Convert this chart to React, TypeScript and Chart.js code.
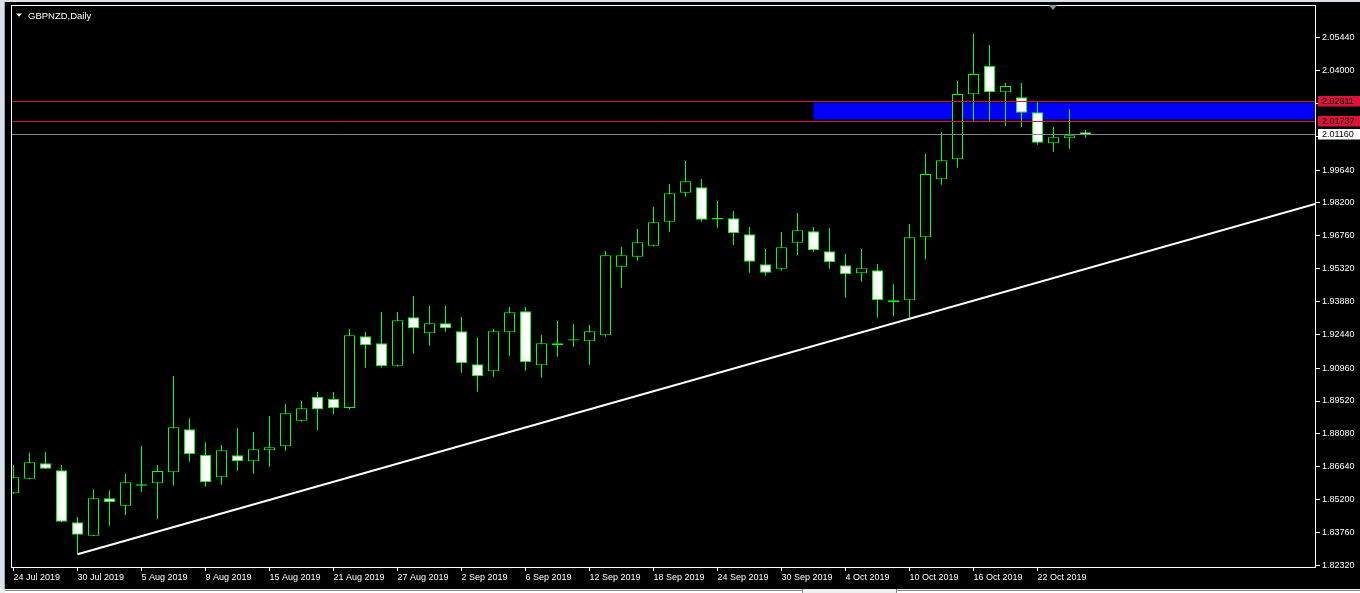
import React, { useEffect, useRef } from "react";
import { Chart, registerables } from "chart.js";

Chart.register(...registerables);

const TITLE = "GBPNZD,Daily";

const DATES = [
  "2019-07-24", "2019-07-25", "2019-07-26", "2019-07-29", "2019-07-30", "2019-07-31",
  "2019-08-01", "2019-08-02", "2019-08-05", "2019-08-06", "2019-08-07", "2019-08-08", "2019-08-09",
  "2019-08-12", "2019-08-13", "2019-08-14", "2019-08-15", "2019-08-16",
  "2019-08-19", "2019-08-20", "2019-08-21", "2019-08-22", "2019-08-23",
  "2019-08-26", "2019-08-27", "2019-08-28", "2019-08-29", "2019-08-30",
  "2019-09-02", "2019-09-03", "2019-09-04", "2019-09-05", "2019-09-06",
  "2019-09-09", "2019-09-10", "2019-09-11", "2019-09-12", "2019-09-13",
  "2019-09-16", "2019-09-17", "2019-09-18", "2019-09-19", "2019-09-20",
  "2019-09-23", "2019-09-24", "2019-09-25", "2019-09-26", "2019-09-27",
  "2019-09-30", "2019-10-01", "2019-10-02", "2019-10-03", "2019-10-04",
  "2019-10-07", "2019-10-08", "2019-10-09", "2019-10-10", "2019-10-11",
  "2019-10-14", "2019-10-15", "2019-10-16", "2019-10-17", "2019-10-18",
  "2019-10-21", "2019-10-22", "2019-10-23", "2019-10-24", "2019-10-25",
];

const OPEN = [
  1.85475, 1.86115, 1.8679, 1.86483, 1.84204, 1.83617, 1.85256, 1.84932, 1.85808, 1.85913,
  1.86395, 1.8828, 1.87153, 1.86176, 1.8714, 1.86877, 1.87359, 1.87535, 1.88657, 1.89695,
  1.89607, 1.89213, 1.92355, 1.92048, 1.91067, 1.93188, 1.92487, 1.92925, 1.92574, 1.91128,
  1.90821, 1.9253, 1.93451, 1.91084, 1.91961, 1.9217, 1.92136, 1.92399, 1.95405, 1.95843,
  1.96325, 1.97377, 1.98648, 1.98884, 1.97478, 1.97526, 1.96825, 1.9551, 1.95317, 1.96457,
  1.96956, 1.9608, 1.95466, 1.95116, 1.95247, 1.93933, 1.93933, 1.96693, 1.99235, 2.00111,
  2.0296, 2.042, 2.03047, 2.02828, 2.02171, 2.00813, 2.01032, 2.01295,
];

const HIGH = [
  1.86715, 1.87254, 1.87285, 1.86715, 1.84437, 1.8565, 1.85607, 1.86321, 1.87548, 1.86715,
  1.90615, 1.88762, 1.8771, 1.87592, 1.88337, 1.88161, 1.88863, 1.89388, 1.8952, 1.89914,
  1.89914, 1.92675, 1.92544, 1.9342, 1.9342, 1.94121, 1.93683, 1.93683, 1.93201, 1.92281,
  1.92675, 1.93639, 1.93639, 1.92412, 1.93026, 1.92894, 1.9285, 1.96093, 1.96268, 1.97057,
  1.98021, 1.99029, 2.00037, 1.99248, 1.98284, 1.97846, 1.97145, 1.96181, 1.96926, 1.97758,
  1.97145, 1.97101, 1.95962, 1.96181, 1.95523, 1.94634, 1.97276, 2.00344, 2.01308, 2.03542,
  2.05602, 2.0512, 2.03455, 2.03455, 2.02635, 2.01527, 2.02316, 2.01395,
];

const LOW = [
  1.85445, 1.86089, 1.8654, 1.84217, 1.82802, 1.83604, 1.84055, 1.84524, 1.85545, 1.84336,
  1.85808, 1.8686, 1.85764, 1.85852, 1.86466, 1.86334, 1.86641, 1.87342, 1.88613, 1.88249,
  1.8895, 1.89147, 1.90979, 1.90979, 1.91023, 1.91593, 1.91943, 1.92557, 1.9076, 1.89927,
  1.90585, 1.91505, 1.90848, 1.90541, 1.91461, 1.91899, 1.91111, 1.92338, 1.94485, 1.95668,
  1.9629, 1.96939, 1.98472, 1.97377, 1.97114, 1.96356, 1.95142, 1.95011, 1.9523, 1.95918,
  1.96062, 1.95317, 1.94047, 1.94748, 1.9317, 1.93231, 1.93122, 1.95729, 1.98998, 1.99743,
  2.01803, 2.01803, 2.01584, 2.0154, 2.00751, 2.00444, 2.00576, 2.01058,
];

const CLOSE = [
  1.86176, 1.86834, 1.86553, 1.84231, 1.83661, 1.85256, 1.85081, 1.85957, 1.8587, 1.86452,
  1.88367, 1.87184, 1.85957, 1.87359, 1.86877, 1.87403, 1.87491, 1.88981, 1.892, 1.89147,
  1.892, 1.92399, 1.91961, 1.9104, 1.93056, 1.92706, 1.92925, 1.92706, 1.91172, 1.90602,
  1.92574, 1.93407, 1.91216, 1.92048, 1.92048, 1.9223, 1.92574, 1.95905, 1.95905, 1.96474,
  1.97351, 1.98621, 1.99147, 1.97465, 1.97538, 1.96869, 1.95624, 1.95142, 1.96255, 1.97,
  1.96124, 1.95598, 1.95072, 1.95335, 1.93933, 1.93845, 1.96693, 1.99467, 2.00068, 2.02973,
  2.03849, 2.03047, 2.03323, 2.02153, 2.00839, 2.01075, 2.01163, 2.0116,
];

const Y_TICKS = [
  2.0544, 2.04, 2.0256, 2.0112, 1.9964, 1.982, 1.9676, 1.9532, 1.9388,
  1.9244, 1.9096, 1.8952, 1.8808, 1.8664, 1.852, 1.8376, 1.8232,
];
const X_TICK_EVERY = 4;
const MONTHS = ["Jan", "Feb", "Mar", "Apr", "May", "Jun", "Jul", "Aug", "Sep", "Oct", "Nov", "Dec"];

// horizontal levels drawn on the chart
const RED_LEVELS = [2.02611, 2.01737];
const BID_PRICE = 2.0116;
// blue zone rectangle
const ZONE_START_INDEX = 50;
const ZONE_TOP = 2.0259;
const ZONE_BOTTOM = 2.0186;
// trend line anchors (bar index, price), drawn as a ray
const TREND_INDEX = [4, 56];
const TREND_PRICE = [1.82802, 1.93122];

// visible range
const X_MIN = -0.15625;
const X_MAX = 81.40625;
const Y_MIN = 1.82202;
const Y_MAX = 2.06873;

const FONT = '"Liberation Sans", Arial, sans-serif';

function fmtDate(s: string) {
  const [y, m, d] = s.split("-");
  return `${parseInt(d, 10)} ${MONTHS[parseInt(m, 10) - 1]} ${y}`;
}

const mt4Plugin = {
  id: "mt4",
  beforeDraw(chart: any) {
    const { ctx, width, height } = chart;
    ctx.save();
    ctx.fillStyle = "#000000";
    ctx.fillRect(0, 0, width, height);
    // window chrome
    ctx.fillStyle = "#d9e0e8";
    ctx.fillRect(0, 0, 4, height);
    ctx.fillRect(0, 0, width, 2);
    ctx.fillStyle = "#9ba6b2";
    ctx.fillRect(4, 2, 1, height - 2);
    ctx.fillStyle = "#f0f0f0";
    ctx.fillRect(0, 589, width, height - 589);
    ctx.fillStyle = "#ffffff";
    ctx.fillRect(5, 591, 797, height - 591);
    ctx.fillRect(897, 591, width - 897, height - 591);
    ctx.fillStyle = "#8a8a8a";
    ctx.fillRect(5, 590, 797, 1);
    ctx.fillRect(897, 590, width - 897, 1);
    ctx.fillRect(802, 589, 1, height - 589);
    ctx.fillRect(896, 589, 1, height - 589);
    ctx.restore();
  },
  beforeDatasetsDraw(chart: any) {
    const { ctx, chartArea } = chart;
    const xs = chart.scales.x;
    const ys = chart.scales.y;
    const x0 = xs.getPixelForValue(ZONE_START_INDEX);
    const yTop = ys.getPixelForValue(ZONE_TOP);
    const yBot = ys.getPixelForValue(ZONE_BOTTOM);
    ctx.save();
    ctx.fillStyle = "#0000ff";
    ctx.fillRect(x0, yTop, chartArea.right - x0, yBot - yTop);
    ctx.restore();
  },
  afterDatasetsDraw(chart: any) {
    const { ctx, chartArea } = chart;
    const ys = chart.scales.y;
    ctx.save();
    ctx.lineWidth = 1;
    ctx.strokeStyle = "#dc143c";
    for (const lv of RED_LEVELS) {
      const y = Math.round(ys.getPixelForValue(lv)) - 0.5;
      ctx.beginPath();
      ctx.moveTo(chartArea.left, y);
      ctx.lineTo(chartArea.right, y);
      ctx.stroke();
    }
    ctx.strokeStyle = "#778899";
    const yb = Math.round(ys.getPixelForValue(BID_PRICE)) - 0.5;
    ctx.beginPath();
    ctx.moveTo(chartArea.left, yb);
    ctx.lineTo(chartArea.right, yb);
    ctx.stroke();
    // frame
    ctx.strokeStyle = "#ffffff";
    ctx.strokeRect(chartArea.left + 0.5, chartArea.top + 0.5, chartArea.right - chartArea.left - 1, chartArea.bottom - chartArea.top - 1);
    ctx.restore();
  },
  afterDraw(chart: any) {
    const { ctx, chartArea, width } = chart;
    const ys = chart.scales.y;
    ctx.save();
    ctx.font = `9px ${FONT}`;
    ctx.textBaseline = "middle";
    ctx.textAlign = "left";
    const boxX = chartArea.right + 2;
    const drawBox = (price: number, bg: string) => {
      const y = Math.round(ys.getPixelForValue(price)) - 0.5;
      ctx.fillStyle = bg;
      ctx.fillRect(boxX, y - 5.5, width - boxX, 10.5);
      ctx.fillStyle = "#000000";
      ctx.fillText(price.toFixed(5), chartArea.right + 6, y);
    };
    for (const lv of RED_LEVELS) drawBox(lv, "#dc143c");
    drawBox(BID_PRICE, "#ffffff");

    // title
    ctx.fillStyle = "#ffffff";
    ctx.beginPath();
    ctx.moveTo(16, 13.5);
    ctx.lineTo(22, 13.5);
    ctx.lineTo(19, 16.8);
    ctx.closePath();
    ctx.fill();
    ctx.font = `9.5px ${FONT}`;
    ctx.textBaseline = "alphabetic";
    ctx.fillText(TITLE, 28, 18.5);

    // chart shift marker
    ctx.fillStyle = "#8a96a3";
    ctx.beginPath();
    ctx.moveTo(1049, 5);
    ctx.lineTo(1057, 5);
    ctx.lineTo(1053, 10);
    ctx.closePath();
    ctx.fill();
    ctx.restore();
  },
};

export default function App() {
  const ref = useRef<HTMLCanvasElement>(null);

  useEffect(() => {
    document.body.style.margin = "0";
    document.body.style.background = "#000";
    const idx = DATES.map((_, i) => i);
    const bodies = idx.map((i) => ({ x: i, y: [OPEN[i], CLOSE[i]] }));
    const wicks = idx.map((i) => ({ x: i, y: [LOW[i], HIGH[i]] }));
    const bodyFill = idx.map((i) => (CLOSE[i] >= OPEN[i] ? "#000000" : "#ffffff"));
    const slope = (TREND_PRICE[1] - TREND_PRICE[0]) / (TREND_INDEX[1] - TREND_INDEX[0]);
    const trend = [
      { x: TREND_INDEX[0], y: TREND_PRICE[0] },
      { x: X_MAX, y: TREND_PRICE[0] + slope * (X_MAX - TREND_INDEX[0]) },
    ];
    const xTicks = idx.filter((i) => i % X_TICK_EVERY === 0);

    Chart.defaults.font.family = FONT;
    Chart.defaults.font.size = 9;

    const chart = new Chart(ref.current as HTMLCanvasElement, {
      type: "bar",
      data: {
        datasets: [
          {
            type: "line",
            data: trend,
            borderColor: "#ffffff",
            borderWidth: 2,
            pointRadius: 0,
            fill: false,
            order: 0,
          } as any,
          {
            data: bodies,
            backgroundColor: bodyFill,
            borderColor: "#00ff00",
            borderWidth: 1,
            borderSkipped: false,
            barThickness: 11,
            grouped: false,
            inflateAmount: 0,
            order: 1,
          } as any,
          {
            data: wicks,
            backgroundColor: "#00ff00",
            borderWidth: 0,
            barThickness: 1,
            grouped: false,
            inflateAmount: 0,
            order: 2,
          } as any,
        ],
      },
      options: {
        responsive: false,
        animation: false,
        devicePixelRatio: 1,
        events: [],
        layout: { padding: { left: 11, top: 5, right: 0, bottom: 0 } },
        plugins: { legend: { display: false }, tooltip: { enabled: false } },
        scales: {
          x: {
            type: "linear",
            position: "bottom",
            min: X_MIN,
            max: X_MAX,
            bounds: "data",
            offset: false,
            afterBuildTicks: (s: any) => {
              s.ticks = xTicks.map((v) => ({ value: v }));
            },
            afterFit: (s: any) => {
              s.height = 25;
              s.paddingLeft = 0;
              s.paddingRight = 0;
              s.paddingTop = 0;
              s.paddingBottom = 0;
            },
            grid: { drawOnChartArea: false, drawTicks: true, tickLength: 3, color: "#ffffff", offset: false },
            border: { display: false },
            ticks: {
              color: "#ffffff",
              align: "start",
              autoSkip: false,
              maxRotation: 0,
              minRotation: 0,
              padding: 1,
              font: { size: 9, family: FONT },
              callback: (v: any) => fmtDate(DATES[Math.round(Number(v))]),
            },
          },
          y: {
            type: "linear",
            position: "right",
            min: Y_MIN,
            max: Y_MAX,
            bounds: "data",
            beginAtZero: false,
            afterBuildTicks: (s: any) => {
              s.ticks = Y_TICKS.map((v) => ({ value: v }));
            },
            afterFit: (s: any) => {
              s.width = 44;
              s.paddingLeft = 0;
              s.paddingRight = 0;
              s.paddingTop = 0;
              s.paddingBottom = 0;
            },
            grid: { drawOnChartArea: false, drawTicks: true, tickLength: 4, color: "#ffffff" },
            border: { display: false },
            ticks: {
              color: "#ffffff",
              autoSkip: false,
              padding: 2,
              font: { size: 9, family: FONT },
              callback: (v: any) => Number(v).toFixed(5),
            },
          },
        },
      } as any,
      plugins: [mt4Plugin],
    });
    return () => chart.destroy();
  }, []);

  return (
    <div style={{ position: "absolute", left: 0, top: 0, width: 1360, height: 593 }}>
      <canvas ref={ref} width={1360} height={593} style={{ display: "block", width: 1360, height: 593 }} />
    </div>
  );
}
